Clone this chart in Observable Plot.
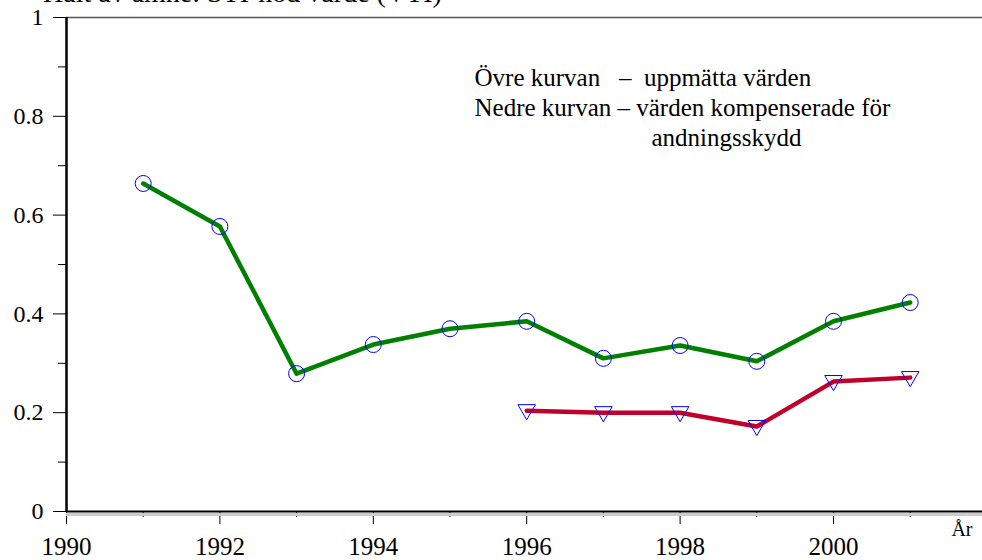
<!DOCTYPE html>
<html>
<head>
<meta charset="utf-8">
<script src="https://cdn.jsdelivr.net/npm/d3@7"></script>
<script src="https://cdn.jsdelivr.net/npm/@observablehq/plot@0.6"></script>
<style>
  html, body { margin: 0; padding: 0; background: white; overflow: hidden; }
  #wrap { position: relative; width: 982px; height: 560px; overflow: hidden; }
  #title { position: absolute; left: 43px; top: -21px; font: 28px "Liberation Serif", serif; line-height: 28px; color: #000; white-space: nowrap; }
</style>
</head>
<body>
<div id="wrap"><div id="chart"></div><div id="title">Halt av ämne: STI-nod värde (VTI)</div></div>
<script>
const years = [1991, 1992, 1993, 1994, 1995, 1996, 1997, 1998, 1999, 2000, 2001];
const upperValues = [0.664, 0.577, 0.279, 0.338, 0.370, 0.385, 0.310, 0.336, 0.304, 0.385, 0.423];
const lowerYears = [1996, 1997, 1998, 1999, 2000, 2001];
const lowerValues = [0.204, 0.200, 0.200, 0.172, 0.263, 0.271];
const xMajorTicks = [1990, 1992, 1994, 1996, 1998, 2000];
const xMinorTicks = [1991, 1993, 1995, 1997, 1999, 2001];
const yMajorTicks = [0, 0.2, 0.4, 0.6, 0.8, 1];
const yMinorTicks = [0.1, 0.3, 0.5, 0.7, 0.9];
const xAxisLabel = "År";
const legendLines = [
  "Övre kurvan\u00a0\u00a0 –\u00a0 uppmätta värden",
  "Nedre kurvan – värden kompenserade för",
  "andningsskydd"
];

const upper = years.map((y, i) => ({year: y, value: upperValues[i]}));
const lower = lowerYears.map((y, i) => ({year: y, value: lowerValues[i]}));

const chart = Plot.plot({
  width: 982,
  height: 560,
  marginLeft: 66,
  marginRight: 0,
  marginTop: 17,
  marginBottom: 49,
  x: {domain: [1990, 1990 + 916 / 76.7]},
  y: {domain: [0, 1]},
  style: {fontFamily: "Liberation Serif, serif", background: "white", color: "black"},
  marks: [
    Plot.axisY(yMajorTicks, {tickSize: 13, tickPadding: 10, fontSize: 24, label: null, tickFormat: d => String(d)}),
    Plot.axisY(yMinorTicks, {tickSize: 8, label: null, tickFormat: () => ""}),
    Plot.axisX(xMajorTicks, {tickSize: 13, tickPadding: 13, fontSize: 25, label: null, tickFormat: d => String(d)}),
    Plot.axisX(xMinorTicks, {tickSize: 6, label: null, tickFormat: () => ""}),
    Plot.ruleY([1], {stroke: "#555", strokeWidth: 1.5}),
    Plot.ruleY([0], {stroke: "#ccc", strokeWidth: 3, dy: 3}),
    Plot.ruleY([0], {stroke: "black", strokeWidth: 2}),
    Plot.ruleX([1990], {stroke: "black", strokeWidth: 2.5}),
    Plot.line(upper, {x: "year", y: "value", stroke: "#008000", strokeWidth: 4.5}),
    Plot.line(lower, {x: "year", y: "value", stroke: "#c0002a", strokeWidth: 4.5}),
    Plot.dot(upper, {x: "year", y: "value", r: 8, stroke: "#0000ff", strokeWidth: 1, fill: "none"}),
    Plot.dot(lower, {x: "year", y: "value", symbol: "triangle", rotate: 180, r: 6.5, stroke: "#0000ff", strokeWidth: 1, fill: "none", dy: -1}),
    Plot.text([xAxisLabel], {frameAnchor: "bottom-right", textAnchor: "end", lineAnchor: "bottom", dx: -10, dy: 24, fontSize: 20}),
    Plot.text([legendLines[0]], {frameAnchor: "top-left", textAnchor: "start", lineAnchor: "bottom", dx: 408, dy: 68, fontSize: 25}),
    Plot.text([legendLines[1]], {frameAnchor: "top-left", textAnchor: "start", lineAnchor: "bottom", dx: 408, dy: 98, fontSize: 25}),
    Plot.text([legendLines[2]], {frameAnchor: "top-left", textAnchor: "start", lineAnchor: "bottom", dx: 585, dy: 128, fontSize: 25})
  ]
});
document.getElementById("chart").appendChild(chart);
</script>
</body>
</html>
